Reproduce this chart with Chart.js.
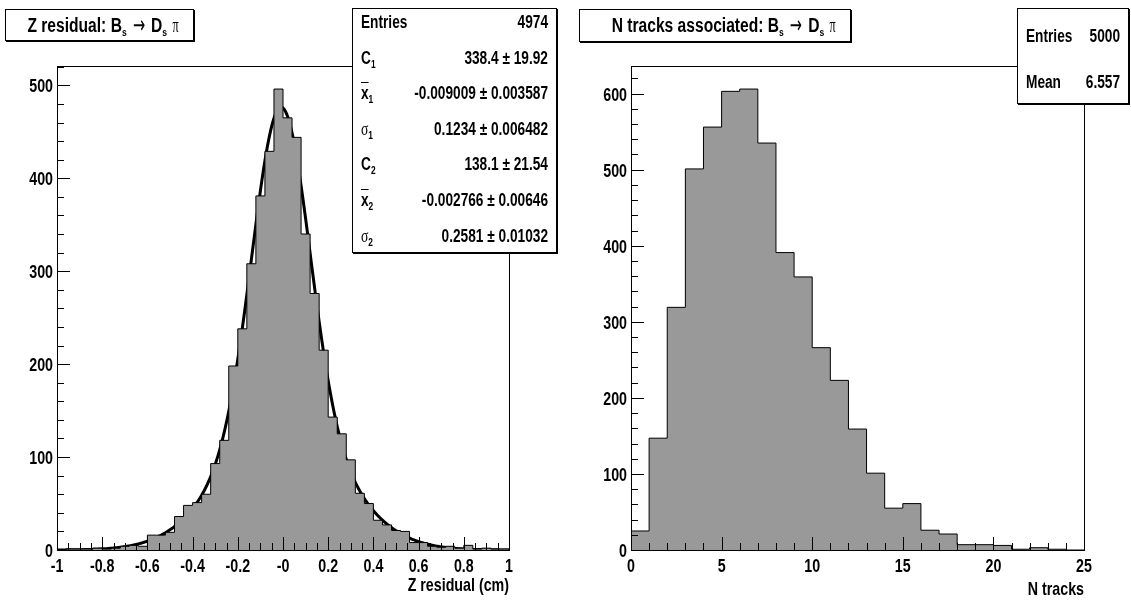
<!DOCTYPE html>
<html>
<head>
<meta charset="utf-8">
<script src="https://cdn.jsdelivr.net/npm/chart.js@4"></script>
<style>
  body { margin: 0; width: 1131px; height: 604px; position: relative; overflow: hidden; background: #fff;
         font-family: "Liberation Sans", Arial, sans-serif; font-weight: bold; color: #000; }
  canvas { position: absolute; top: 0; }
  .box { position: absolute; background: #fff; border: 1px solid #000; box-shadow: 1px 1px 0 #000; box-sizing: border-box; }
  .ttl { text-align: center; font-size: 20px; line-height: 30px; white-space: nowrap; }
  .ttl span { display: inline-block; transform: scaleX(0.78); transform-origin: center; }
  .row { position: absolute; left: 0; right: 0; height: 20px; line-height: 20px; font-size: 18px; white-space: nowrap; }
  .row .k { position: absolute; left: 8px; transform: scaleX(0.76); transform-origin: left center; }
  .row .v { position: absolute; right: 8px; transform: scaleX(0.76); transform-origin: right center; }
  sub { font-size: 11px; vertical-align: -4px; line-height: 0; }
  .sym { font-family: "Liberation Serif", serif; font-weight: normal; }
  .arr { font-family: "DejaVu Sans", sans-serif; font-weight: normal; font-size: 24px; line-height: 0; vertical-align: -1px; }
  .bar { text-decoration: overline; }
</style>
</head>
<body>
<canvas id="zChart" width="565" height="604" style="left:0"></canvas>
<canvas id="nChart" width="566" height="604" style="left:565px"></canvas>

<div class="box ttl" style="left:5px;top:9px;width:189px;height:32px">
  <span>Z residual: B<sub>s</sub> <span class="arr">&rarr;</span> D<sub>s</sub> <span class="sym">&pi;</span></span>
</div>
<div class="box ttl" style="left:579px;top:9px;width:272px;height:33px">
  <span>N tracks associated: B<sub>s</sub> <span class="arr">&rarr;</span> D<sub>s</sub> <span class="sym">&pi;</span></span>
</div>

<div class="box" style="left:352px;top:8px;width:205px;height:245px">
  <div class="row" style="top:3px"><span class="k">Entries</span><span class="v">4974</span></div>
  <div class="row" style="top:39px"><span class="k">C<sub>1</sub></span><span class="v">338.4 &plusmn; 19.92</span></div>
  <div class="row" style="top:74px"><span class="k"><span class="bar">x</span><sub>1</sub></span><span class="v">-0.009009 &plusmn; 0.003587</span></div>
  <div class="row" style="top:110px"><span class="k"><span class="sym">&sigma;</span><sub>1</sub></span><span class="v">0.1234 &plusmn; 0.006482</span></div>
  <div class="row" style="top:145px"><span class="k">C<sub>2</sub></span><span class="v">138.1 &plusmn; 21.54</span></div>
  <div class="row" style="top:181px"><span class="k"><span class="bar">x</span><sub>2</sub></span><span class="v">-0.002766 &plusmn; 0.00646</span></div>
  <div class="row" style="top:217px"><span class="k"><span class="sym">&sigma;</span><sub>2</sub></span><span class="v">0.2581 &plusmn; 0.01032</span></div>
</div>

<div class="box" style="left:1017px;top:8px;width:112px;height:96px">
  <div class="row" style="top:17px"><span class="k">Entries</span><span class="v">5000</span></div>
  <div class="row" style="top:63px"><span class="k">Mean</span><span class="v">6.557</span></div>
</div>

<script>
// Z residual histogram: 50 bins of 0.04 from -1 to 1
const zLow = -1;
const zBinWidth = 0.04;
const zCounts = [0, 1, 1, 1, 2, 1, 2, 4, 5, 4,
  16, 16, 19, 36, 48, 51, 60, 93, 118, 198,
  238, 308, 381, 429, 496, 465, 444, 340, 276, 215,
  143, 125, 97, 61, 50, 32, 27, 21, 20, 8,
  8, 4, 3, 4, 2, 5, 1, 2, 1, 1];
const zTickLabels = ['-1', '-0.8', '-0.6', '-0.4', '-0.2', '-0', '0.2', '0.4', '0.6', '0.8', '1'];

// double gaussian fit, parameters as printed in the stats box
const fitC1 = 338.4, fitMean1 = -0.009009, fitSigma1 = 0.1234;
const fitC2 = 138.1, fitMean2 = -0.002766, fitSigma2 = 0.2581;

// N tracks histogram: 25 bins of 1 from 0 to 25
const nLow = 0;
const nBinWidth = 1;
const nCounts = [25, 147, 319, 501, 556, 603, 606, 535, 391, 359,
  266, 223, 159, 101, 55, 61, 26, 21, 7, 7,
  6, 1, 3, 1, 0];
const nTickLabels = ['0', '5', '10', '15', '20', '25'];

function histPoints(low, width, counts) {
  const pts = [{ x: low, y: 0 }];
  counts.forEach((c, i) => pts.push({ x: low + i * width, y: c }));
  pts.push({ x: low + counts.length * width, y: 0 });
  return pts;
}

function fitPoints() {
  const pts = [];
  for (let i = 0; i <= 400; i++) {
    const x = -1 + i * 0.005;
    const g1 = fitC1 * Math.exp(-0.5 * Math.pow((x - fitMean1) / fitSigma1, 2));
    const g2 = fitC2 * Math.exp(-0.5 * Math.pow((x - fitMean2) / fitSigma2, 2));
    pts.push({ x, y: g1 + g2 });
  }
  return pts;
}

// ROOT look: frame, ticks pointing inwards, narrow bold labels
const rootFrame = {
  id: 'rootFrame',
  afterDatasetsDraw(chart, args, o) {
    const { ctx, chartArea: a } = chart;
    const xs = chart.scales.x, ys = chart.scales.y;
    ctx.save();
    ctx.strokeStyle = '#000';
    ctx.lineWidth = 1;
    ctx.strokeRect(a.left + 0.5, a.top + 0.5, a.right - a.left, a.bottom - a.top);

    ctx.beginPath();
    const nx = Math.round((xs.max - xs.min) / o.minorX);
    const kx = Math.round(o.majorX / o.minorX);
    for (let i = 0; i <= nx; i++) {
      const px = Math.round(xs.getPixelForValue(xs.min + i * o.minorX)) + 0.5;
      const len = i % kx === 0 ? 13 : 7;
      ctx.moveTo(px, a.bottom);
      ctx.lineTo(px, a.bottom - len);
    }
    const ny = Math.floor(ys.max / o.minorY + 1e-6);
    const ky = Math.round(o.majorY / o.minorY);
    for (let i = 0; i <= ny; i++) {
      const py = Math.round(ys.getPixelForValue(i * o.minorY)) + 0.5;
      const len = i % ky === 0 ? 13 : 7;
      ctx.moveTo(a.left, py);
      ctx.lineTo(a.left + len, py);
    }
    ctx.stroke();

    ctx.fillStyle = '#000';
    ctx.font = 'bold 19px "Liberation Sans", Arial, sans-serif';
    const text = (x, y, s, align) => {
      ctx.save();
      ctx.translate(x, y);
      ctx.scale(0.75, 1);
      ctx.textAlign = align;
      ctx.fillText(s, 0, 0);
      ctx.restore();
    };
    xs.ticks.forEach(t => text(xs.getPixelForValue(t.value), a.bottom + 22, t.label, 'center'));
    ys.ticks.forEach(t => text(a.left - 4, ys.getPixelForValue(t.value) + 7, t.label, 'right'));
    text(a.right, o.titleY, xs.options.title.text, 'right');
    ctx.restore();
  }
};

function histChart(id, cfg) {
  const datasets = [{
    data: histPoints(cfg.low, cfg.width, cfg.counts),
    stepped: 'before',
    fill: 'origin',
    backgroundColor: '#999999',
    borderColor: '#000',
    borderWidth: 1,
    pointRadius: 0
  }];
  if (cfg.fit) {
    datasets.push({ data: cfg.fit, borderColor: '#000', borderWidth: 3, pointRadius: 0, fill: false, tension: 0 });
  }
  return new Chart(document.getElementById(id), {
    type: 'line',
    data: { datasets },
    options: {
      responsive: false,
      animation: false,
      devicePixelRatio: 1,
      layout: { padding: cfg.padding },
      plugins: {
        legend: { display: false },
        tooltip: { enabled: false },
        rootFrame: cfg.frame
      },
      scales: {
        x: {
          type: 'linear', min: cfg.low, max: cfg.low + cfg.counts.length * cfg.width,
          ticks: { display: false, stepSize: cfg.frame.majorX, callback: cfg.xLabel },
          grid: { display: false }, border: { display: false },
          title: { display: false, text: cfg.xTitle },
          afterFit: s => { s.height = 54; }
        },
        y: {
          min: 0, max: cfg.yMax,
          ticks: { display: false, stepSize: cfg.frame.majorY, includeBounds: false },
          grid: { display: false }, border: { display: false },
          afterFit: s => { s.width = 0; }
        }
      }
    },
    plugins: [rootFrame]
  });
}

histChart('zChart', {
  low: zLow, width: zBinWidth, counts: zCounts, fit: fitPoints(),
  yMax: 520.8, xTitle: 'Z residual (cm)',
  xLabel: v => zTickLabels[Math.round((v - zLow) / 0.2)],
  padding: { left: 57, top: 66, right: 56, bottom: 0 },
  frame: { majorX: 0.2, minorX: 0.05, majorY: 100, minorY: 20, titleY: 591 }
});

histChart('nChart', {
  low: nLow, width: nBinWidth, counts: nCounts,
  yMax: 636.3, xTitle: 'N tracks',
  xLabel: v => nTickLabels[Math.round(v / 5)],
  padding: { left: 66, top: 66, right: 47, bottom: 0 },
  frame: { majorX: 5, minorX: 1, majorY: 100, minorY: 20, titleY: 595 }
});
</script>
</body>
</html>
